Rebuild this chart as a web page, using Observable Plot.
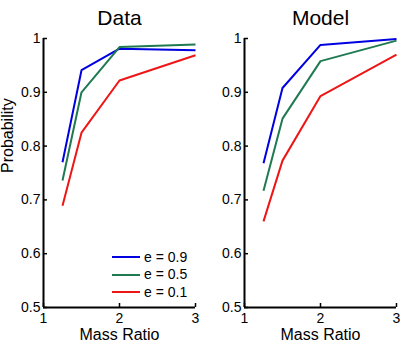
<!DOCTYPE html>
<html>
<head>
<meta charset="utf-8">
<script src="https://cdn.jsdelivr.net/npm/d3@7"></script>
<script src="https://cdn.jsdelivr.net/npm/@observablehq/plot@0.6"></script>
<style>
  body { margin: 0; background: #fff; font-family: "Liberation Sans", Arial, sans-serif; }
  #chart { position: relative; width: 402px; height: 344px; overflow: hidden; }
  .panel { position: absolute; top: 0; width: 201px; height: 344px; }
  .panel svg { display: block; }
  .legend { position: absolute; left: 112px; top: 248.5px; font-size: 14px; color: #000; }
  .legend .row { display: flex; align-items: center; height: 17.5px; line-height: 17.5px; }
  .legend .swatch { width: 28px; height: 2px; margin-right: 4px; }
</style>
</head>
<body>
<div id="chart"></div>
<script>
// Mass ratio at which each probability was computed
const massRatio = [1.25, 1.5, 2, 3];

// Series (eccentricity) labels and colours
const seriesLabels = ["e = 0.9", "e = 0.5", "e = 0.1"];
const seriesColors = ["#0000e0", "#1f7a52", "#ee1515"];

// Observed probabilities
const dataE09 = [0.770, 0.941, 0.981, 0.978];
const dataE05 = [0.736, 0.900, 0.984, 0.989];
const dataE01 = [0.689, 0.825, 0.922, 0.969];

// Model probabilities
const modelE09 = [0.768, 0.908, 0.988, 0.999];
const modelE05 = [0.717, 0.851, 0.958, 0.996];
const modelE01 = [0.660, 0.773, 0.893, 0.970];

// Axis ticks
const xTicks = [1, 2, 3];
const yTicks = [0.5, 0.6, 0.7, 0.8, 0.9, 1];
const yTickLabels = ["0.5", "0.6", "0.7", "0.8", "0.9", "1"];

const font = '"Liberation Sans", Arial, sans-serif';

function rowsFor(seriesValues) {
  return seriesValues.flatMap((values, i) =>
    values.map((p, j) => ({ massRatio: massRatio[j], probability: p, series: seriesLabels[i] }))
  );
}

function panel(title, seriesValues, withYLabel) {
  const marks = [
    Plot.line(rowsFor(seriesValues), {
      x: "massRatio", y: "probability", z: "series", stroke: "series",
      strokeWidth: 2, strokeLinejoin: "miter", strokeLinecap: "butt"
    }),
    Plot.axisX(xTicks, {
      tickSize: -4, tickPadding: 10, strokeWidth: 1.5, fontSize: 14,
      tickFormat: d => String(d), label: null
    }),
    Plot.axisY(yTicks, {
      tickSize: -4, tickPadding: 7, strokeWidth: 1.5, fontSize: 14,
      tickFormat: d => yTickLabels[yTicks.indexOf(d)], label: null
    }),
    Plot.ruleX([1], { stroke: "#000", strokeWidth: 2 }),
    Plot.ruleY([0.5], { stroke: "#000", strokeWidth: 2 }),
    Plot.text([title], { frameAnchor: "top", dy: -20.5, fontSize: 21, lineAnchor: "middle" }),
    Plot.text(["Mass Ratio"], { frameAnchor: "bottom", dy: 27.5, fontSize: 16, lineAnchor: "middle" })
  ];
  if (withYLabel) {
    marks.push(Plot.text(["Probability"], {
      frameAnchor: "left", dx: -35.5, rotate: -90, fontSize: 16, lineAnchor: "middle"
    }));
  }
  return Plot.plot({
    width: 201,
    height: 344,
    marginTop: 38,
    marginBottom: 37,
    marginLeft: 43,
    marginRight: 6,
    style: { fontFamily: font, fontSize: "14px", color: "#000", background: "transparent", overflow: "visible" },
    x: { domain: [1, 3] },
    y: { domain: [0.5, 1] },
    color: { domain: seriesLabels, range: seriesColors },
    marks
  });
}

const chart = d3.select("#chart");

const left = chart.append("div").attr("class", "panel").style("left", "0px");
left.node().append(panel("Data", [dataE09, dataE05, dataE01], true));

const right = chart.append("div").attr("class", "panel").style("left", "201px");
right.node().append(panel("Model", [modelE09, modelE05, modelE01], false));

// Legend inside the lower right of the Data panel
const legend = chart.append("div").attr("class", "legend");
const rows = legend.selectAll(".row").data(seriesLabels).join("div").attr("class", "row");
rows.append("span").attr("class", "swatch").style("background", (d, i) => seriesColors[i]);
rows.append("span").text(d => d);
</script>
</body>
</html>
